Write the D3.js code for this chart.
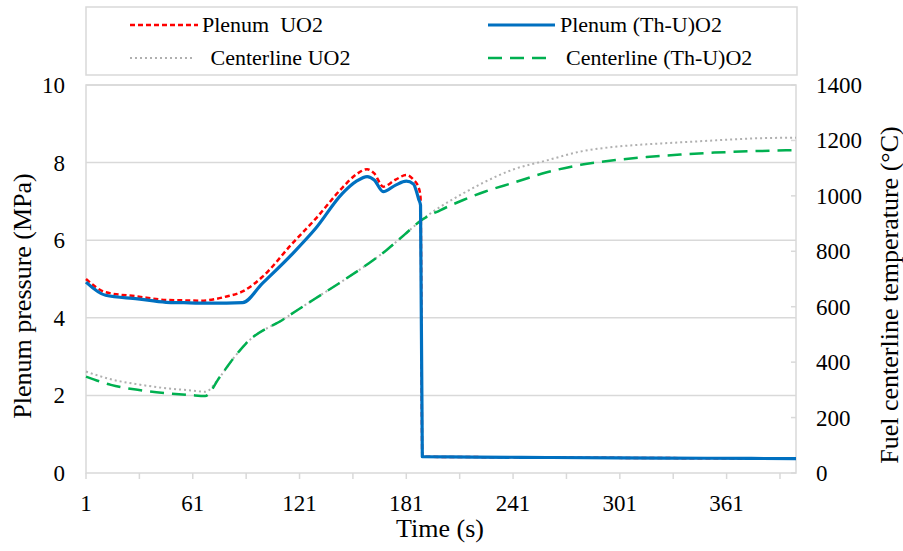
<!doctype html>
<html>
  <head>
    <script src="https://d3js.org/d3.v7.min.js" charset="utf-8"></script>
    <style>
      body { margin: 0; background: #fff; }
    </style>
  </head>
  <body>
    <script>

// time axis labels (category axis, one point per second)
var timeLabels = [1, 61, 121, 181, 241, 301, 361];
var timeTicks = [1, 31, 61, 91, 121, 151, 181, 211, 241, 271, 301, 331, 361, 391];

// plenum pressure (MPa)
var plenumTime = [1, 12, 30, 46, 56, 65, 80, 89, 100, 117, 130, 145, 153, 159, 163, 168, 175, 181, 185, 188, 189, 190, 220, 260, 300, 350, 400];
var plenumUO2  = [5.00, 4.66, 4.55, 4.46, 4.45, 4.44, 4.55, 4.68, 5.05, 5.92, 6.55, 7.35, 7.70, 7.83, 7.72, 7.38, 7.56, 7.68, 7.56, 7.35, 7.10, 0.42, 0.41, 0.40, 0.39, 0.38, 0.37];
var plenumThU  = [4.92, 4.58, 4.49, 4.40, 4.39, 4.38, 4.38, 4.39, 4.88, 5.65, 6.30, 7.20, 7.52, 7.64, 7.55, 7.25, 7.42, 7.52, 7.45, 7.05, 6.90, 0.42, 0.41, 0.40, 0.39, 0.38, 0.37];

// fuel centerline temperature (°C)
var centerTime = [1, 15, 30, 46, 60, 68, 76, 84, 91, 112, 129, 145, 160, 170, 180, 189, 200, 213, 225, 241, 260, 279, 300, 316, 335, 354, 375, 400];
var centerUO2  = [366, 338, 320, 306, 298, 293, 345, 415, 468, 555, 626, 692, 757, 805, 860, 910, 960, 1009, 1050, 1095, 1128, 1160, 1178, 1186, 1193, 1200, 1207, 1210];
var centerThU  = [348, 318, 300, 288, 281, 278, 345, 415, 468, 555, 626, 692, 757, 805, 860, 910, 948, 985, 1015, 1047, 1085, 1112, 1130, 1140, 1149, 1156, 1161, 1165];

var pressTicks = [0, 2, 4, 6, 8, 10];
var tempTicks = [0, 200, 400, 600, 800, 1000, 1200, 1400];

var seriesNames = ["Plenum  UO2", "Plenum (Th-U)O2", " Centerline UO2", "Centerline (Th-U)O2"];

var W = 903, H = 551;
var plotL = 86, plotR = 796, plotT = 85, plotB = 473;
var serif = "'Times New Roman', 'Liberation Serif', 'DejaVu Serif', serif";

var svg = d3.select("body")
  .append("svg")
    .attr("width", W)
    .attr("height", H)
    .attr("font-family", serif);

var x = d3.scaleLinear().domain([1, 400]).range([plotL, plotR]);
var yP = d3.scaleLinear().domain([0, 10]).range([plotB, plotT]);
var yT = d3.scaleLinear().domain([0, 1400]).range([plotB, plotT]);

// gridlines
svg.selectAll("line.grid")
  .data(pressTicks.filter(function(d) { return d > 0; }))
  .enter().append("line")
    .attr("class", "grid")
    .attr("x1", plotL).attr("x2", plotR)
    .attr("y1", function(d) { return yP(d); })
    .attr("y2", function(d) { return yP(d); })
    .attr("stroke", "#d9d9d9")
    .attr("stroke-width", 1.5);

// plot area frame
svg.append("rect")
  .attr("x", plotL).attr("y", plotT)
  .attr("width", plotR - plotL).attr("height", plotB - plotT)
  .attr("fill", "none")
  .attr("stroke", "#d9d9d9")
  .attr("stroke-width", 1.5);

// x axis ticks (outside) and labels
svg.selectAll("line.xtick")
  .data(timeTicks)
  .enter().append("line")
    .attr("class", "xtick")
    .attr("x1", function(d) { return x(d); })
    .attr("x2", function(d) { return x(d); })
    .attr("y1", plotB).attr("y2", plotB + 6)
    .attr("stroke", "#d9d9d9")
    .attr("stroke-width", 1.5);

svg.selectAll("text.xlab")
  .data(timeLabels)
  .enter().append("text")
    .attr("class", "xlab")
    .attr("x", function(d) { return x(d); })
    .attr("y", 511)
    .attr("text-anchor", "middle")
    .style("font-size", "23px")
    .style("font-family", serif)
    .text(function(d) { return d; });

// left axis labels
svg.selectAll("text.ylab")
  .data(pressTicks)
  .enter().append("text")
    .attr("class", "ylab")
    .attr("x", 65)
    .attr("y", function(d) { return yP(d) + 8; })
    .attr("text-anchor", "end")
    .style("font-size", "23px")
    .style("font-family", serif)
    .text(function(d) { return d; });

// right axis ticks (inside) and labels
svg.selectAll("line.ttick")
  .data(tempTicks)
  .enter().append("line")
    .attr("class", "ttick")
    .attr("x1", plotR - 5).attr("x2", plotR)
    .attr("y1", function(d) { return yT(d); })
    .attr("y2", function(d) { return yT(d); })
    .attr("stroke", "#d9d9d9")
    .attr("stroke-width", 1.5);

svg.selectAll("text.tlab")
  .data(tempTicks)
  .enter().append("text")
    .attr("class", "tlab")
    .attr("x", 816)
    .attr("y", function(d) { return yT(d) + 8; })
    .attr("text-anchor", "start")
    .style("font-size", "23px")
    .style("font-family", serif)
    .text(function(d) { return d; });

// axis titles
svg.append("text")
  .attr("transform", "translate(31,296) rotate(-90)")
  .attr("text-anchor", "middle")
  .style("font-size", "26px")
  .style("font-family", serif)
  .text("Plenum pressure (MPa)");

svg.append("text")
  .attr("transform", "translate(898,295) rotate(-90)")
  .attr("text-anchor", "middle")
  .style("font-size", "26px")
  .style("font-family", serif)
  .text("Fuel centerline temperature (°C)");

svg.append("text")
  .attr("x", 440).attr("y", 537)
  .attr("text-anchor", "middle")
  .style("font-size", "26px")
  .style("font-family", serif)
  .text("Time (s)");

// series
var styles = [
  { color: "#ff0000", width: 2.5, dash: "5,3" },
  { color: "#0070c0", width: 3.2, dash: null },
  { color: "#b0b0b0", width: 2, dash: "2,3" },
  { color: "#00b050", width: 2.5, dash: "14,8" }
];

var seriesData = [
  d3.zip(plenumTime, plenumUO2),
  d3.zip(plenumTime, plenumThU),
  d3.zip(centerTime, centerUO2),
  d3.zip(centerTime, centerThU)
];

var lineP = d3.line()
  .x(function(d) { return x(d[0]); })
  .y(function(d) { return yP(d[1]); })
  .curve(d3.curveMonotoneX);
var lineT = d3.line()
  .x(function(d) { return x(d[0]); })
  .y(function(d) { return yT(d[1]); })
  .curve(d3.curveMonotoneX);

// centerline first, then plenum on top (matches picture stacking)
[2, 3, 0, 1].forEach(function(i) {
  svg.append("path")
    .datum(seriesData[i])
    .attr("d", i < 2 ? lineP : lineT)
    .attr("fill", "none")
    .attr("stroke", styles[i].color)
    .attr("stroke-width", styles[i].width)
    .attr("stroke-dasharray", styles[i].dash)
    .attr("stroke-linejoin", "round");
});

// legend
svg.append("rect")
  .attr("x", plotL).attr("y", 7)
  .attr("width", plotR - plotL + 1).attr("height", 68)
  .attr("fill", "#fff")
  .attr("stroke", "#d9d9d9")
  .attr("stroke-width", 1.5);

var legendPos = [
  { x1: 130, x2: 198, tx: 202, y: 25 },
  { x1: 488, x2: 555, tx: 560, y: 25 },
  { x1: 130, x2: 193, tx: 205, y: 58 },
  { x1: 488, x2: 554, tx: 566, y: 58 }
];

legendPos.forEach(function(p, i) {
  svg.append("line")
    .attr("x1", p.x1).attr("x2", p.x2)
    .attr("y1", p.y).attr("y2", p.y)
    .attr("stroke", styles[i].color)
    .attr("stroke-width", styles[i].width)
    .attr("stroke-dasharray", styles[i].dash);
  svg.append("text")
    .attr("x", p.tx).attr("y", p.y + 7)
    .style("font-size", "22px")
    .style("font-family", serif)
    .style("white-space", "pre")
    .text(seriesNames[i]);
});

    </script>
  </body>
</html>
